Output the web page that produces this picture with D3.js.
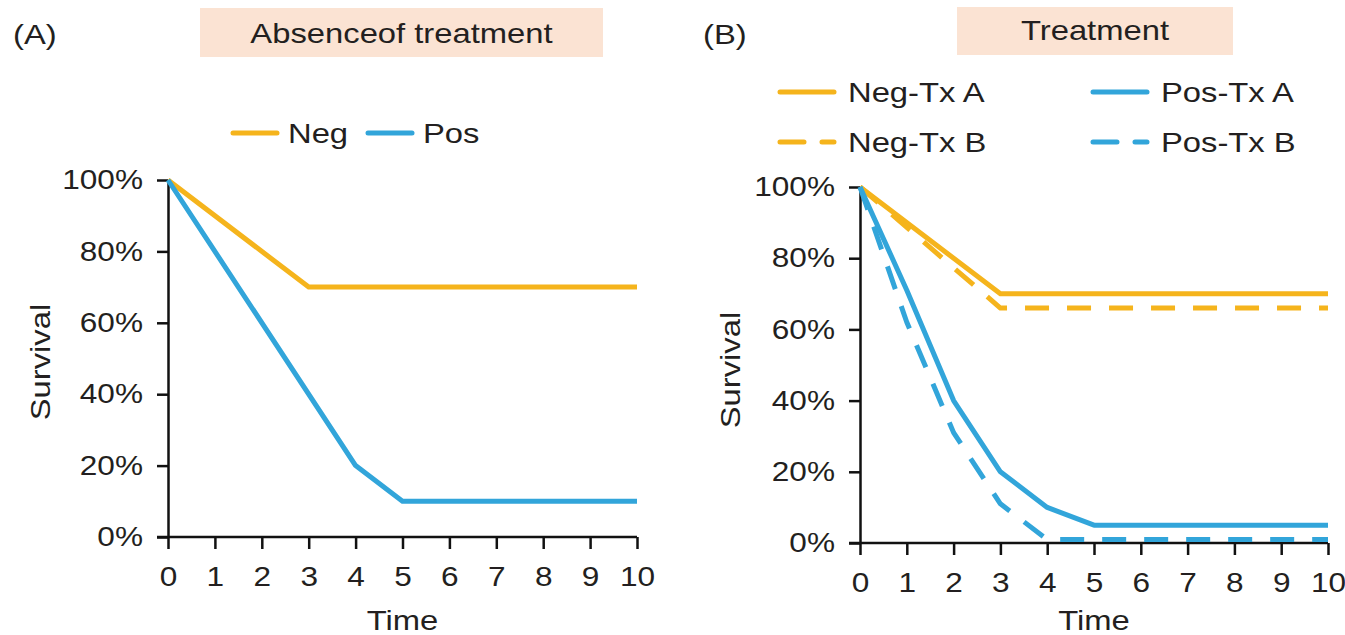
<!DOCTYPE html>
<html>
<head>
<meta charset="utf-8">
<script src="https://cdn.jsdelivr.net/npm/d3@7"></script>
<style>
  body { margin: 0; background: #fff; }
  text { font-family: "Liberation Sans", Arial, sans-serif; fill: #231f20; }
</style>
</head>
<body>
<div id="canvas"></div>
<script>
// data
const timeTicks = [0, 1, 2, 3, 4, 5, 6, 7, 8, 9, 10];
const survivalTicks = [0, 20, 40, 60, 80, 100];

const absNegTime = [0, 3, 10],            absNegSurv = [100, 70, 70];
const absPosTime = [0, 4, 5, 10],         absPosSurv = [100, 20, 10, 10];

const negTxATime = [0, 3, 10],            negTxASurv = [100, 70, 70];
const negTxBTime = [0, 3, 10],            negTxBSurv = [100, 66, 66];
const posTxATime = [0, 1, 2, 3, 4, 5, 10], posTxASurv = [100, 71, 40, 20, 10, 5, 5];
const posTxBTime = [0, 1, 2, 3, 4, 10],    posTxBSurv = [100, 62, 31, 11, 1, 1];

// colours
const orange = "#f5b41c",
      blue = "#32a5da",
      boxFill = "#fbe3d3";
const dash = "24,18";
const sx = 1.17; // reference text is a bit wide

const svg = d3.select("#canvas")
    .append("svg")
    .attr("width", 1345)
    .attr("height", 635);

function zip(t, s) {
    return t.map((d, i) => ({t: d, s: s[i]}));
}

function stretchText(g, x, y, str, size, anchor) {
    return g.append("text")
        .attr("transform", "translate(" + x + "," + y + ") scale(" + sx + ",1)")
        .attr("font-size", size)
        .attr("text-anchor", anchor || "start")
        .text(str);
}

function drawPanel(p) {
    const g = svg.append("g");

    const x = d3.scaleLinear().domain([0, 10]).range([p.left, p.right]);
    const y = d3.scaleLinear().domain([0, 100]).range([p.bottom, p.top]);

    // letter and title box
    stretchText(g, p.letterX, 44, p.letter, 28);
    g.append("rect")
        .attr("x", p.box[0])
        .attr("y", p.box[1])
        .attr("width", p.box[2] - p.box[0])
        .attr("height", p.box[3] - p.box[1])
        .attr("fill", boxFill);
    stretchText(g, (p.box[0] + p.box[2]) / 2, p.titleY, p.title, 28, "middle");

    // axes
    const yAxis = g.append("g")
        .attr("transform", "translate(" + p.left + ",0)")
        .call(d3.axisLeft(y).tickValues(survivalTicks).tickSize(11).tickSizeOuter(0)
            .tickFormat(d => d + "%"));
    yAxis.selectAll(".tick text")
        .attr("x", null)
        .attr("font-size", 27)
        .attr("font-family", null)
        .attr("fill", null)
        .attr("transform", "translate(-25,0) scale(" + sx + ",1)");

    const xAxis = g.append("g")
        .attr("transform", "translate(0," + p.bottom + ")")
        .call(d3.axisBottom(x).tickValues(timeTicks).tickSize(12).tickSizeOuter(0));
    xAxis.selectAll(".tick text")
        .attr("y", null)
        .attr("font-size", 27)
        .attr("font-family", null)
        .attr("fill", null)
        .attr("transform", "translate(0,30) scale(" + sx + ",1)");

    g.selectAll(".domain, .tick line")
        .attr("stroke", "#111")
        .attr("stroke-width", 2.5);
    // x axis line runs left to meet the 0% tick
    xAxis.select(".domain").attr("d", "M" + (p.left - 11) + ",0H" + p.right);

    // axis titles
    stretchText(g, (p.left + p.right) / 2, 630, "Time", 28, "middle");
    g.append("text")
        .attr("transform", "translate(" + p.survX + "," + p.survY + ") rotate(-90) scale(" + sx + ",1)")
        .attr("font-size", 28)
        .attr("text-anchor", "middle")
        .text("Survival");

    // lines
    const line = d3.line().x(d => x(d.t)).y(d => y(d.s));
    p.series.forEach(s => {
        g.append("path")
            .datum(zip(s.time, s.surv))
            .attr("fill", "none")
            .attr("stroke", s.color)
            .attr("stroke-width", 5)
            .attr("stroke-linejoin", "round")
            .attr("stroke-dasharray", s.dashed ? dash : null)
            .attr("d", line);
    });

    // legend
    p.series.forEach(s => {
        g.append("line")
            .attr("x1", s.lx)
            .attr("x2", s.lx + p.legLen)
            .attr("y1", s.ly)
            .attr("y2", s.ly)
            .attr("stroke", s.color)
            .attr("stroke-width", 5)
            .attr("stroke-linecap", "round")
            .attr("stroke-dasharray", s.dashed ? "24,18" : null);
        stretchText(g, s.lx + p.legLen + p.legGap, s.ly + 10, s.name, 28);
    });
}

drawPanel({
    letter: "(A)", letterX: 13,
    title: "Absenceof treatment", box: [200, 8, 603, 57], titleY: 43,
    left: 168, right: 637, top: 180, bottom: 537,
    survX: 50, survY: 362,
    legLen: 44, legGap: 11,
    series: [
        {name: "Neg", time: absNegTime, surv: absNegSurv, color: orange, dashed: false, lx: 233, ly: 133},
        {name: "Pos", time: absPosTime, surv: absPosSurv, color: blue, dashed: false, lx: 368, ly: 133}
    ]
});

drawPanel({
    letter: "(B)", letterX: 703,
    title: "Treatment", box: [957, 7, 1233, 55], titleY: 40,
    left: 860, right: 1328, top: 187, bottom: 543,
    survX: 740, survY: 370,
    legLen: 54, legGap: 14,
    series: [
        {name: "Neg-Tx A", time: negTxATime, surv: negTxASurv, color: orange, dashed: false, lx: 780, ly: 92},
        {name: "Neg-Tx B", time: negTxBTime, surv: negTxBSurv, color: orange, dashed: true, lx: 780, ly: 142},
        {name: "Pos-Tx A", time: posTxATime, surv: posTxASurv, color: blue, dashed: false, lx: 1093, ly: 92},
        {name: "Pos-Tx B", time: posTxBTime, surv: posTxBSurv, color: blue, dashed: true, lx: 1093, ly: 142}
    ]
});
</script>
</body>
</html>
